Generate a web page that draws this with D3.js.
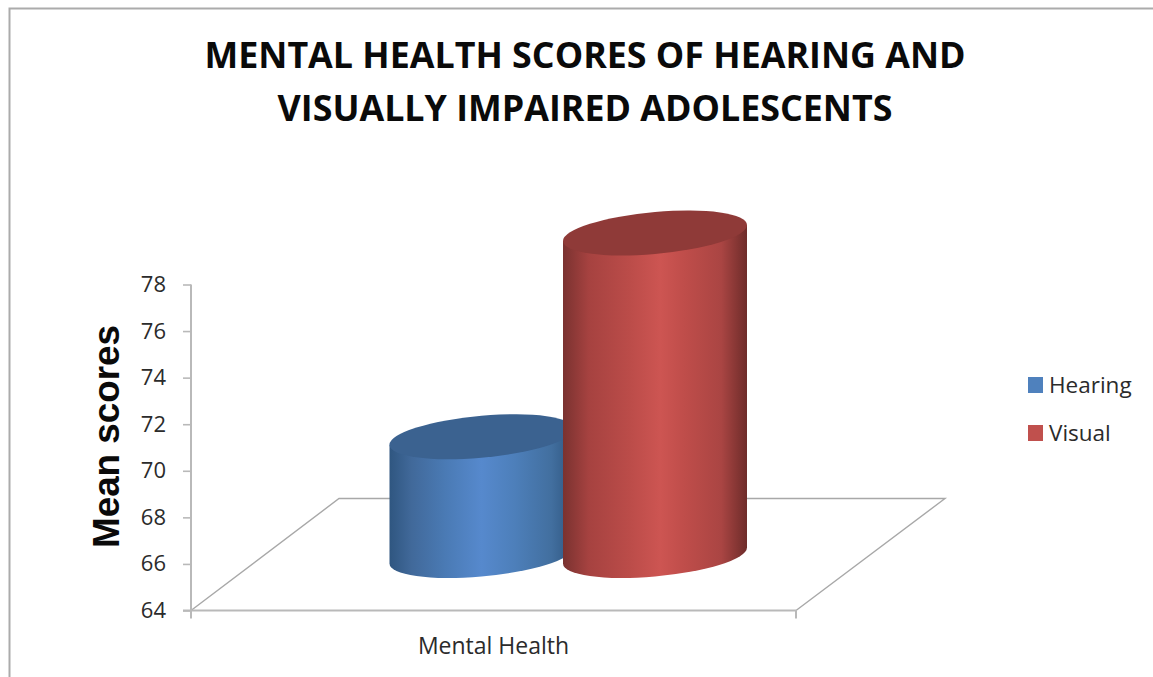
<!DOCTYPE html>
<html>
<head>
<meta charset="utf-8">
<script src="https://cdn.jsdelivr.net/npm/d3@7"></script>
<style>
  html, body { margin: 0; padding: 0; background: #fff; overflow: hidden; }
  svg { display: block; }
  .tick text { font-family: "Open Sans", sans-serif; fill: #2b2b2b; }
</style>
</head>
<body>
<svg id="chart" width="1153" height="677"></svg>
<script>
// Chart content
const titleLines = ["MENTAL HEALTH SCORES OF HEARING AND", "VISUALLY IMPAIRED ADOLESCENTS"];
const yAxisTitle = "Mean scores";
const categories = ["Mental Health"];
const seriesNames = ["Hearing", "Visual"];
const seriesValues = [69.1, 77.85];
const yTicks = [64, 66, 68, 70, 72, 74, 76, 78];

// Appearance of each series: flat key colour, cap colour, shaded wall stops
const keyColors = ["#4f81bd", "#c0504d"];
const capColors = ["#3b6290", "#8f3a38"];
const wallStops = [
  [[0, "#2f5680"], [0.12, "#41699a"], [0.3, "#4a7ab4"], [0.5, "#5689cd"], [0.68, "#4d7fba"], [0.88, "#426f9f"], [1, "#2f5680"]],
  [[0, "#7a3230"], [0.14, "#a64240"], [0.36, "#bb4c49"], [0.53, "#cd5552"], [0.66, "#bf4d4a"], [0.86, "#aa4543"], [1, "#6e2c2a"]]
];

const svg = d3.select("#chart");
const AXIS = "#b9b9b9";
const FLOOR = "#a8a8a8";

// Outer chart frame, open at the right and bottom
svg.append("path")
  .attr("d", "M9.5,677V8.5H1153")
  .attr("fill", "none").attr("stroke", "#ababab").attr("stroke-width", 2);

// Title
svg.append("g").selectAll("text").data(titleLines).join("text")
  .attr("x", 585)
  .attr("y", (d, i) => 68 + i * 52.5)
  .attr("text-anchor", "middle")
  .attr("font-family", "'Open Sans', sans-serif")
  .attr("font-weight", 700)
  .attr("font-size", 35.8)
  .attr("fill", "#0a0a0a")
  .text(d => d);

// Scales
const y = d3.scaleLinear().domain([64, 78]).range([610.5, 284.5]);
const x = d3.scaleBand().domain(categories).range([191, 796]);
const column = d3.scalePoint().domain(seriesNames).range([481.5, 655]);

// Projection of the 3D floor: the back edge sits up and to the right of the front edge
const floorDepthX = 148;
const floorDepthY = 112;
const baseLift = 55;      // column base centres sit this far behind the front edge
const radiusX = 92;
const radiusY = 21;
const shear = 8 / radiusX; // cylinder ellipses lean upward to the right

// Floor outline
const [x0, x1] = x.range();
svg.append("path")
  .attr("d", d3.line()([
    [x0, y(64)], [x0 + floorDepthX, y(64) - floorDepthY],
    [x1 + floorDepthX + 1, y(64) - floorDepthY], [x1, y(64)]
  ]))
  .attr("fill", "none").attr("stroke", FLOOR).attr("stroke-width", 1.4);

// Value axis
const yAxis = svg.append("g")
  .attr("transform", `translate(${x0},0)`)
  .call(d3.axisLeft(y).tickValues(yTicks).tickSize(8).tickPadding(17).tickFormat(d3.format("d")));
yAxis.selectAll("text").attr("font-size", 22);
yAxis.select(".domain").attr("d", `M0,${y(78)}V${y(64) + 8}`);

// Category axis
const xAxis = svg.append("g")
  .attr("transform", `translate(0,${y(64)})`)
  .call(d3.axisBottom(x).tickValues([]).tickSizeOuter(0));
xAxis.select(".domain").attr("d", `M${x0 - 8},0H${x1}M${x1},0v8`);
svg.selectAll(".domain").attr("stroke", AXIS).attr("stroke-width", 2);
yAxis.selectAll("line").attr("stroke", AXIS).attr("stroke-width", 1.6);

svg.append("g").selectAll("text").data(categories).join("text")
  .attr("x", d => x(d) + x.bandwidth() / 2)
  .attr("y", 654)
  .attr("text-anchor", "middle")
  .attr("font-family", "'Open Sans', sans-serif")
  .attr("font-size", 23)
  .attr("fill", "#2b2b2b")
  .text(d => d);

// Axis title
svg.append("text")
  .attr("transform", "translate(119,436.5) rotate(-90)")
  .attr("text-anchor", "middle")
  .attr("font-family", "'Liberation Sans', sans-serif")
  .attr("font-weight", 700)
  .attr("font-size", 36.8)
  .attr("fill", "#0a0a0a")
  .text(yAxisTitle);

// Wall shading, one horizontal gradient per series
const defs = svg.append("defs");
seriesNames.forEach((name, i) => {
  defs.append("linearGradient")
    .attr("id", `wall-${name}`)
    .attr("x1", 0).attr("x2", 1).attr("y1", 0).attr("y2", 0)
    .selectAll("stop").data(wallStops[i]).join("stop")
    .attr("offset", d => d[0])
    .attr("stop-color", d => d[1]);
});

// Cylinders, drawn in a sheared frame so walls stay vertical while the ellipses lean
const cylinders = svg.append("g").selectAll("g").data(seriesNames).join("g")
  .attr("transform", d => `translate(${column(d)},0) skewY(${-Math.atan(shear) * 180 / Math.PI})`);

cylinders.each(function (name, i) {
  const g = d3.select(this);
  const yBase = y(64) - baseLift;
  const yTop = y(seriesValues[i]) - baseLift;
  g.append("path")
    .attr("d", `M${-radiusX},${yTop}V${yBase}A${radiusX},${radiusY} 0 0 0 ${radiusX},${yBase}V${yTop}Z`)
    .attr("fill", `url(#wall-${name})`);
  g.append("ellipse")
    .attr("cx", 0).attr("cy", yTop)
    .attr("rx", radiusX).attr("ry", radiusY)
    .attr("fill", capColors[i]);
});

// Legend
const legendRows = svg.append("g").selectAll("g").data(seriesNames).join("g")
  .attr("transform", (d, i) => `translate(1028,${377 + i * 48})`);
legendRows.append("rect")
  .attr("width", 15).attr("height", 16)
  .attr("fill", (d, i) => keyColors[i]);
legendRows.append("text")
  .attr("x", 21).attr("y", 16)
  .attr("font-family", "'Open Sans', sans-serif")
  .attr("font-size", 22.5)
  .attr("fill", "#2b2b2b")
  .text(d => d);
</script>
</body>
</html>
